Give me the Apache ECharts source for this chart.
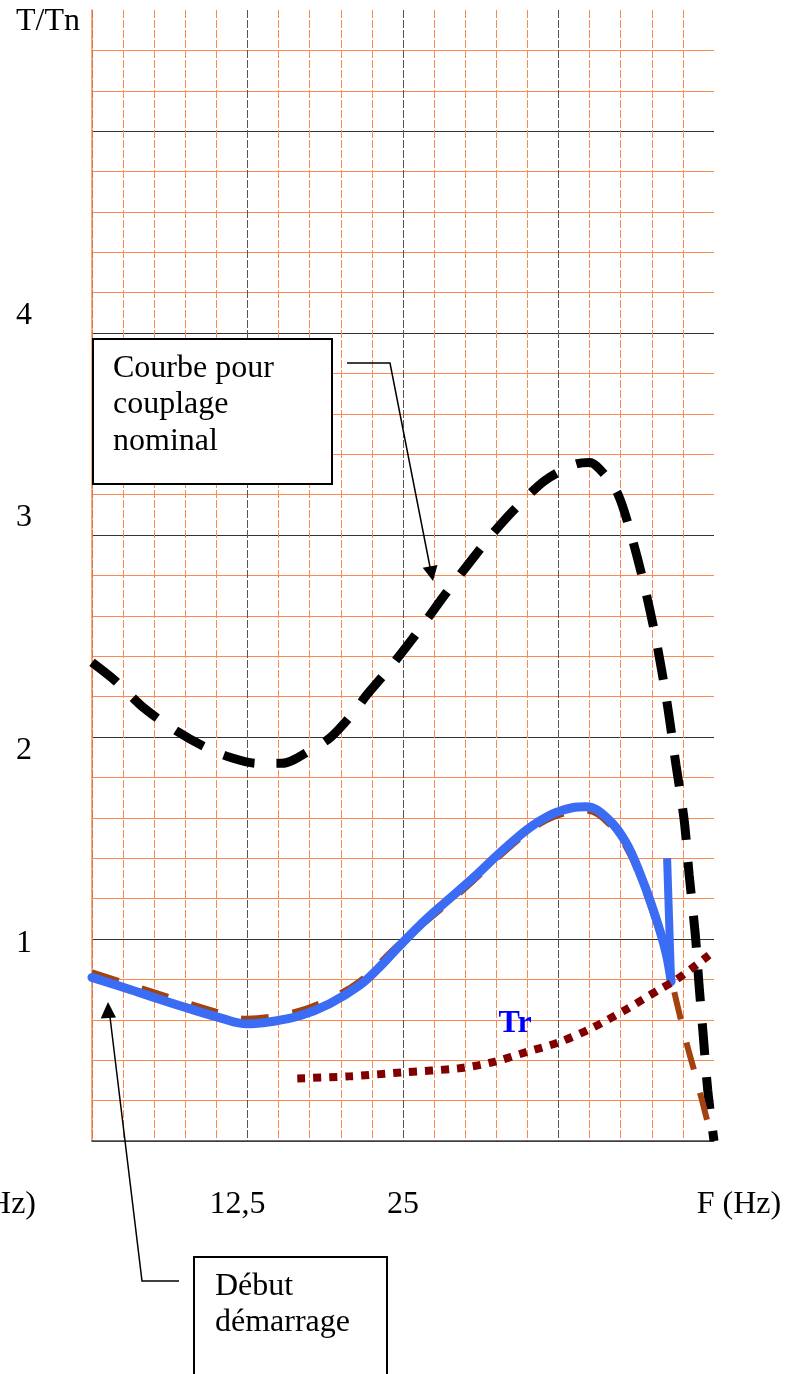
<!DOCTYPE html>
<html>
<head>
<meta charset="utf-8">
<title>T/Tn en fonction de F</title>
<script src="https://cdn.jsdelivr.net/npm/echarts@6/dist/echarts.min.js"></script>
<style>
  html, body { margin: 0; padding: 0; background: #fff; }
  #main { width: 788px; height: 1374px; }
</style>
</head>
<body>
<div id="main"></div>
<script>
  // courbe pour couplage nominal : [F (Hz), T/Tn]
  let nominal = [
    [0, 2.37], [1.85, 2.28], [4.25, 2.14], [6.8, 2.03], [9.1, 1.95], [11.1, 1.9],
    [13.3, 1.87], [15.25, 1.87], [17.7, 1.94], [19.2, 2.0], [21.0, 2.12], [22.1, 2.21],
    [23.9, 2.34], [26.3, 2.53], [28.3, 2.7], [30.3, 2.86], [32.1, 3.0], [34.0, 3.13],
    [36.4, 3.27], [38.8, 3.35], [40.0, 3.36], [41.2, 3.3], [42.3, 3.2], [43.3, 3.01],
    [44.4, 2.75], [45.35, 2.48], [46.2, 2.18], [46.95, 1.86], [47.6, 1.59], [48.0, 1.32],
    [48.5, 1.02], [48.8, 0.77], [49.1, 0.55], [49.5, 0.25], [50, 0]
  ];
  // courbe bleue (démarrage)
  let blueCurve = [
    [0, 0.81], [3.05, 0.75], [7.06, 0.67], [10.3, 0.61], [12.45, 0.58], [14.3, 0.59],
    [16.7, 0.62], [19.1, 0.68], [21.5, 0.77], [23.1, 0.86], [24.7, 0.965], [26.3, 1.065],
    [27.9, 1.155], [30.6, 1.3], [33.3, 1.455], [36.0, 1.585], [38.6, 1.65], [39.7, 1.655],
    [41.3, 1.605], [42.9, 1.48], [44.2, 1.3], [45.35, 1.1], [46.15, 0.93], [46.55, 0.79]
  ];
  let blueReturn = [[46.55, 0.79], [46.23, 1.4]];
  // courbe brune en pointillés, sous la bleue
  let brownCurve = [
    [0, 0.835], [3.05, 0.775], [7.06, 0.695], [10.3, 0.635], [12.45, 0.605], [14.3, 0.615],
    [16.7, 0.645], [19.1, 0.705], [21.5, 0.79], [24.7, 0.975], [27.9, 1.14], [30.6, 1.285],
    [33.3, 1.44], [36.0, 1.57], [38.6, 1.63], [39.7, 1.635], [41.3, 1.585], [42.9, 1.46],
    [44.2, 1.28], [45.35, 1.08], [46.15, 0.92], [46.8, 0.74], [47.3, 0.61], [47.9, 0.46],
    [48.4, 0.35], [49.0, 0.21], [49.6, 0.07], [50, 0]
  ];
  // Tr
  let trCurve = [
    [16.5, 0.31], [20.7, 0.32], [25.0, 0.34], [29.5, 0.36], [32.2, 0.39], [34.9, 0.44],
    [37.6, 0.49], [40.2, 0.56], [42.9, 0.65], [45.6, 0.75], [47.0, 0.8], [49.6, 0.92]
  ];
  let xTickValues = [12.5, 25, 50];
  let xTickTexts = ['12,5', '25', 'F (Hz)'];
  let yTickValues = [1, 2, 3, 4, 5.6];
  let yTickTexts = ['1', '2', '3', '4', 'T/Tn'];

  let serif = '"Liberation Serif", "Times New Roman", serif';
  let orange = '#fb8a50';
  let base = { fontFamily: serif, fontSize: 32, color: '#000', lineHeight: 32 };

  // couleurs des lignes de grille
  let yColors = [];
  for (let i = 0; i <= 28; i++) {
    yColors.push(i === 28 ? 'transparent' : (i % 5 === 0 ? '#333' : orange));
  }
  let xMinorColors = [];
  for (let i = 0; i <= 20; i++) {
    xMinorColors.push(i % 5 === 0 ? 'transparent' : orange);
  }

  let xKeys = ['xa', 'xb', 'xc'];
  let yKeys = ['ya', 'yb', 'yc', 'yd', 'ye'];
  function findIdx(arr, v) {
    return arr.findIndex(function (t) { return Math.abs(t - v) < 1e-6; });
  }

  var myChart = echarts.init(document.getElementById('main'));
  let option = {
    animation: false,
    backgroundColor: '#fff',
    grid: { left: 92, right: 74, top: 10, bottom: 233, outerBoundsMode: 'none' },
    xAxis: [{
      type: 'value',
      position: 'bottom',
      min: 0,
      max: 50,
      interval: 2.5,
      axisLine: { show: true, lineStyle: { color: '#444', width: 1.5 } },
      axisTick: { show: false },
      axisLabel: {
        margin: 48,
        formatter: function (v) {
          let i = findIdx(xTickValues, v);
          return i < 0 ? '' : '{' + xKeys[i] + '|' + xTickTexts[i] + '}';
        },
        rich: {
          xa: Object.assign({ padding: [0, 20, 0, 0] }, base),
          xb: Object.assign({}, base),
          xc: Object.assign({ padding: [0, 0, 0, 50] }, base)
        }
      },
      splitLine: { show: true, lineStyle: { color: xMinorColors, width: 1, type: [8, 2] } }
    }, {
      type: 'value',
      position: 'top',
      min: 0,
      max: 50,
      interval: 12.5,
      axisLine: { show: false },
      axisTick: { show: false },
      axisLabel: { show: false },
      splitLine: { show: true, lineStyle: { color: ['#444', '#555', '#555', '#555', 'transparent'], width: 1, type: [8, 2] } }
    }],
    yAxis: [{
      type: 'value',
      min: 0,
      max: 5.6,
      interval: 0.2,
      axisLine: { show: false },
      axisTick: { show: false },
      axisLabel: {
        align: 'left',
        margin: 76,
        formatter: function (v) {
          let i = findIdx(yTickValues, v);
          return i < 0 ? '' : '{' + yKeys[i] + '|' + yTickTexts[i] + '}';
        },
        rich: {
          ya: Object.assign({ padding: [10, 0, 0, 0] }, base),
          yb: Object.assign({ padding: [28, 0, 0, 0] }, base),
          yc: Object.assign({ padding: [0, 0, 36, 0] }, base),
          yd: Object.assign({ padding: [0, 0, 36, 0] }, base),
          ye: Object.assign({ padding: [24, 0, 0, 0] }, base)
        }
      },
      splitLine: { show: true, lineStyle: { color: yColors, width: 1 } }
    }, {
      type: 'value',
      position: 'right',
      min: 0,
      max: 5.6,
      axisLine: { show: true, lineStyle: { color: orange, width: 1.5 } },
      axisTick: { show: false },
      axisLabel: { show: false },
      splitLine: { show: false }
    }],
    series: [
      {
        name: 'couplage nominal',
        type: 'line',
        data: nominal,
        smooth: 0.3,
        symbol: 'none',
        lineStyle: { color: '#000', width: 9, type: [32, 22], cap: 'butt' },
        z: 2
      },
      {
        name: 'brun',
        type: 'line',
        data: brownCurve,
        smooth: 0.4,
        symbol: 'none',
        lineStyle: { color: '#a3410f', width: 6, type: [28, 24], cap: 'butt' },
        z: 3
      },
      {
        name: 'démarrage',
        type: 'line',
        data: blueCurve,
        smooth: 0.4,
        symbol: 'none',
        lineStyle: { color: '#3b6cf4', width: 9, cap: 'round', join: 'round' },
        z: 4
      },
      {
        name: 'retour',
        type: 'line',
        data: blueReturn,
        symbol: 'none',
        lineStyle: { color: '#3b6cf4', width: 8, cap: 'butt' },
        z: 4
      },
      {
        name: 'Tr',
        type: 'line',
        data: trCurve,
        smooth: 0.3,
        symbol: 'none',
        lineStyle: { color: '#800000', width: 8, type: [8, 8], cap: 'butt' },
        z: 5
      }
    ],
    graphic: [
      { type: 'rect', z: 100, shape: { x: 93, y: 339, width: 239, height: 145 },
        style: { fill: '#fff', stroke: '#000', lineWidth: 2 } },
      { type: 'text', z: 101, x: 113, y: 350,
        style: { text: 'Courbe pour\ncouplage\nnominal', fontFamily: serif, fontSize: 32, lineHeight: 36.5, fill: '#000', verticalAlign: 'top' } },
      { type: 'polyline', z: 100, shape: { points: [[347, 363], [390, 363], [430, 567]] },
        style: { stroke: '#000', lineWidth: 1.5, fill: null } },
      { type: 'polygon', z: 100, shape: { points: [[433, 581], [437.5, 565], [422.7, 567.7]] },
        style: { fill: '#000' } },
      { type: 'rect', z: 100, shape: { x: 194, y: 1257, width: 193, height: 140 },
        style: { fill: '#fff', stroke: '#000', lineWidth: 2 } },
      { type: 'text', z: 101, x: 215, y: 1268,
        style: { text: 'Début\ndémarrage', fontFamily: serif, fontSize: 32, lineHeight: 36.5, fill: '#000', verticalAlign: 'top' } },
      { type: 'polyline', z: 100, shape: { points: [[179, 1281], [142, 1281], [110, 1017]] },
        style: { stroke: '#000', lineWidth: 1.5, fill: null } },
      { type: 'polygon', z: 100, shape: { points: [[108, 1002], [116, 1017.5], [100.7, 1018.5]] },
        style: { fill: '#000' } },
      { type: 'text', z: 101, x: 36, y: 1205,
        style: { text: 'F (Hz)', fontFamily: serif, fontSize: 32, fill: '#000', align: 'right', verticalAlign: 'middle' } },
      { type: 'text', z: 101, x: 515, y: 1024,
        style: { text: 'Tr', fontFamily: serif, fontSize: 32, fontWeight: 'bold', fill: '#0000ff', align: 'center', verticalAlign: 'middle' } }
    ]
  };

  myChart.setOption(option);
</script>
</body>
</html>
